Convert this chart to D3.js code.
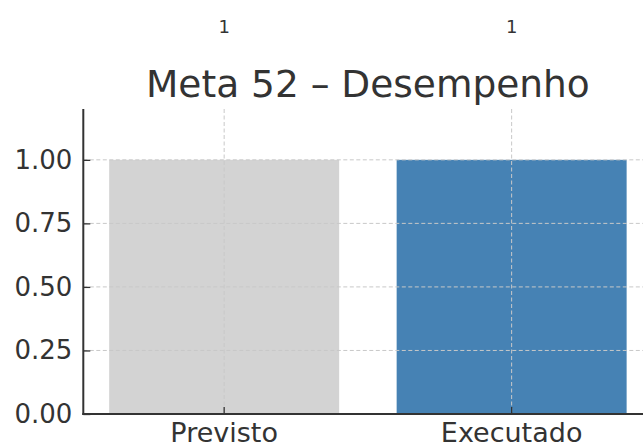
<!DOCTYPE html>
<html><head><meta charset="utf-8">
<script src="https://cdn.jsdelivr.net/npm/d3@7"></script>
<style>body{margin:0;background:#fff}svg{display:block}text{font-family:"DejaVu Sans",sans-serif;fill:#333}</style>
</head><body><svg id="c" width="643" height="446"></svg>
<script>
const categories = ["Previsto", "Executado"];
const values = [1, 1];
const barColors = ["#d3d3d3", "#4682b4"];
const yTicks = [0, 0.25, 0.5, 0.75, 1.0];
const title = "Meta 52 – Desempenho";

const svg = d3.select("#c");
const x = d3.scaleLinear().domain([-0.49, 1.49]).range([83.3, 652.5]);
const y = d3.scaleLinear().domain([0, 1.2]).range([414, 109]);
const bw = 0.8;

// bars
svg.selectAll("rect.bar").data(values).enter().append("rect")
  .attr("x", (d,i) => x(i - bw/2)).attr("width", (d,i) => x(i + bw/2) - x(i - bw/2))
  .attr("y", d => y(d)).attr("height", d => y(0) - y(d))
  .attr("fill", (d,i) => barColors[i]);

// grid (on top)
const g = svg.append("g");
yTicks.forEach(t => g.append("line").attr("x1", x(-0.49)).attr("x2", 643)
  .attr("y1", y(t)).attr("y2", y(t)).attr("stroke", "#c8c8c8").attr("stroke-width", 1).attr("stroke-dasharray", "4,2.5"));
categories.forEach((c,i) => g.append("line").attr("x1", x(i)).attr("x2", x(i))
  .attr("y1", y(1.2)).attr("y2", y(0)).attr("stroke", "#c8c8c8").attr("stroke-width", 1).attr("stroke-dasharray", "4,2.5"));

// axes
const yAxis = d3.axisLeft(y).tickValues(yTicks).tickFormat(d3.format(".2f")).tickSizeInner(-7).tickSizeOuter(0).tickPadding(11);
const ya = svg.append("g").attr("transform", `translate(${x(-0.49)},0)`).call(yAxis);
ya.select(".domain").remove();
ya.selectAll("line").attr("stroke", "#333").attr("stroke-width", 1.3);
ya.selectAll("text").attr("font-size", 26).attr("fill", "#333").attr("font-family", "DejaVu Sans");

const xa = svg.append("g").attr("transform", `translate(0,${y(0)})`);
categories.forEach((c,i) => {
  xa.append("line").attr("x1", x(i)).attr("x2", x(i)).attr("y1", 0).attr("y2", -7).attr("stroke", "#333").attr("stroke-width", 1.3);
  xa.append("text").attr("x", x(i)).attr("y", 9).attr("dy", "0.71em").attr("text-anchor", "middle").attr("font-size", 27).text(c);
});

// spines
svg.append("line").attr("x1", x(-0.49)).attr("x2", x(-0.49)).attr("y1", y(1.2)).attr("y2", y(0)+1).attr("stroke", "#333").attr("stroke-width", 2);
svg.append("line").attr("x1", x(-0.49)-1).attr("x2", 643).attr("y1", y(0)).attr("y2", y(0)).attr("stroke", "#333").attr("stroke-width", 2);

// value labels
svg.selectAll("text.val").data(values).enter().append("text").attr("class","val")
  .attr("x", (d,i) => x(i)).attr("y", d => y(d + 0.5)).attr("text-anchor", "middle").attr("font-size", 18)
  .text(d => d3.format("d")(d));

// title
svg.append("text").attr("x", (x(-0.49)+x(1.49))/2).attr("y", 97).attr("text-anchor", "middle").attr("font-size", 37.5).text(title);
</script></body></html>
